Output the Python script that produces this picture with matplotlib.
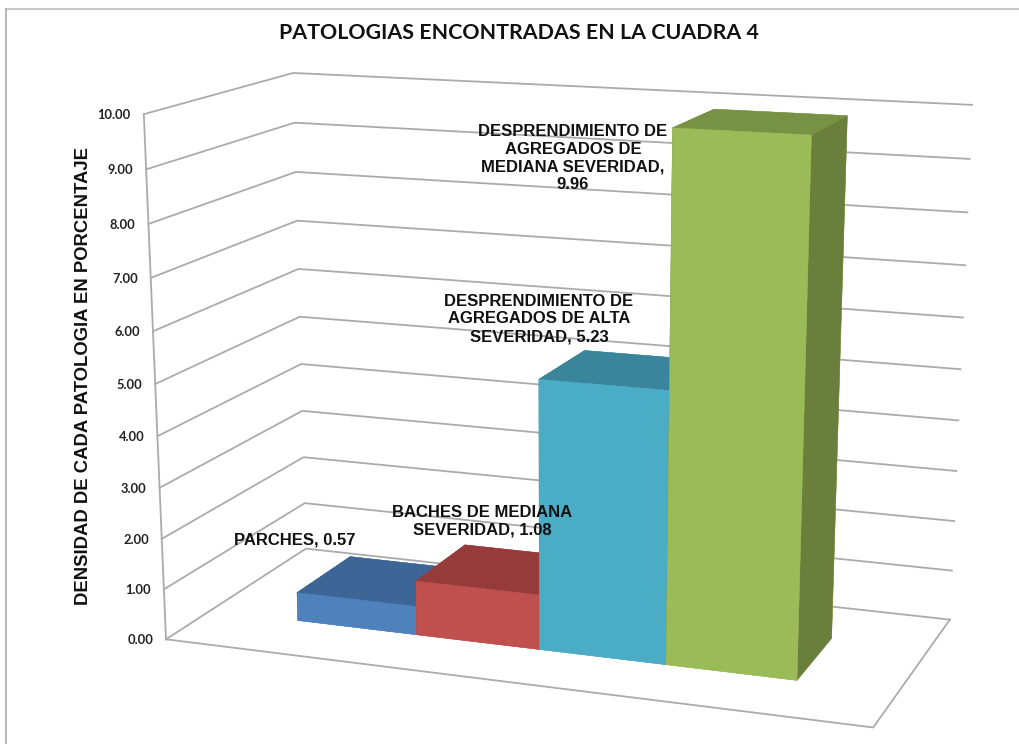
import numpy as np
import matplotlib
matplotlib.use('Agg')
import matplotlib.pyplot as plt
from matplotlib.lines import Line2D

W, H = 1020, 744

title = 'PATOLOGIAS ENCONTRADAS EN LA CUADRA 4'
ylabel = 'DENSIDAD DE CADA PATOLOGIA EN PORCENTAJE'
values = [0.57, 1.08, 5.23, 9.96]
names = ['PARCHES', 'BACHES DE MEDIANA\nSEVERIDAD',
         'DESPRENDIMIENTO DE\nAGREGADOS DE ALTA\nSEVERIDAD',
         'DESPRENDIMIENTO DE\nAGREGADOS DE\nMEDIANA SEVERIDAD,\n']
sep = [', ', ', ', ', ', '']
label_pos = [(295, 540), (482, 521), (539, 319), (573, 158)]
yticks = list(range(0, 11))

front = ['#4F81BD', '#C0504D', '#4BACC6', '#9BBB59']
top = ['#3D6596', '#953B39', '#3A8599', '#789245']
side = ['#3D6596', '#953B39', '#3A8599', '#6B7F3C']

# plot box: x in bar widths (gap 150%), y is depth 0-1, z is the value axis
XMAX = 5.5
BAR_START = 0.75
DEPTH = (0.3, 0.7)
ZMAX = 10

# where the corners of the box land in the picture, used to fit the camera
box_world = [(0, 0, 0), (0, 0, ZMAX), (0, 1, 0), (0, 1, ZMAX),
             (XMAX, 1, 0), (XMAX, 1, ZMAX), (XMAX, 0, 0)]
box_pixels = [(166, 639), (144, 114), (306, 549), (293, 73),
              (950, 619), (972, 105), (873, 728)]


def fit_camera(world, pixels):
    rows = []
    for (x, y, z), (u, v) in zip(world, pixels):
        rows.append([x, y, z, 1, 0, 0, 0, 0, -u*x, -u*y, -u*z, -u])
        rows.append([0, 0, 0, 0, x, y, z, 1, -v*x, -v*y, -v*z, -v])
    P = np.linalg.svd(np.array(rows, float))[2][-1].reshape(3, 4)
    return P / P[2, 3]


P = fit_camera(box_world, box_pixels)


def project(x, y, z):
    u, v, w = P @ np.array([x, y, z, 1.0])
    return u / w, v / w


def frac(x, y):
    return x / W, 1 - y / H


fig = plt.figure(figsize=(W/100, H/100), dpi=100)
ax = fig.add_axes([0, 0, 1, 1], projection='3d')
ax.apply_aspect = lambda position=None: None
ax.computed_zorder = False
ax.set_axis_off()


def get_proj():
    x0, x1 = ax.viewLim.intervalx
    y0, y1 = ax.viewLim.intervaly
    A = np.array([[(x1-x0)/W, 0, x0], [0, -(y1-y0)/H, y1], [0, 0, 1]])
    Q = A @ P
    # third row only orders the faces, kept negative so nothing gets clipped
    return np.array([Q[0], Q[1], [-0.03, 1, -0.02, -2], Q[2]])


ax.get_proj = get_proj

# walls and floor
grid = dict(color='#ABABAB', lw=1.3, zorder=1)
for z in yticks:
    ax.plot([0, 0, XMAX], [0, 1, 1], [z, z, z], **grid)
    px, py = project(0, 0, z)
    fx, fy = frac(px - 13, py + 1)
    fig.text(fx, fy, f'{z:.2f}', ha='right', va='center', fontsize=9.3,
             family='Lato', fontweight='bold', color='#222222')
ax.plot([0, 0], [0, 0], [0, ZMAX], **grid)
ax.plot([0, XMAX, XMAX], [0, 0, 1], [0, 0, 0], **grid)

# bars
for i, v in enumerate(values):
    cols = [front[i], top[i], front[i], front[i], side[i], side[i]]
    ax.bar3d(BAR_START + i, DEPTH[0], 0, 1, DEPTH[1]-DEPTH[0], v, color=cols,
             shade=False, edgecolor=cols, linewidth=0.3, zorder=2 + i)

for name, s, v, (x, y) in zip(names, sep, values, label_pos):
    fx, fy = frac(x, y)
    fig.text(fx, fy, f'{name}{s}{v:.2f}', ha='center', va='center', multialignment='center',
             fontsize=12, family='Liberation Sans', fontweight='bold', linespacing=1.22,
             color='#111111', zorder=20)

fx, fy = frac(519, 33)
fig.text(fx, fy, title, ha='center', va='center', fontsize=15.4, family='Lato',
         fontweight='bold', color='#111111')
fx, fy = frac(84, 376)
fig.text(fx, fy, ylabel, ha='center', va='center', rotation=90, fontsize=13.3,
         family='Liberation Sans', fontweight='bold', color='#111111')

# outer frame of the pasted picture, only top and left show
fig.add_artist(Line2D([6/W, 1], [1 - 9/H, 1 - 9/H], color='#C8C8C8', lw=1.5))
fig.add_artist(Line2D([6/W, 6/W], [0, 1 - 9/H], color='#ABABAB', lw=1.2))

fig.savefig('out.png', dpi=100)
